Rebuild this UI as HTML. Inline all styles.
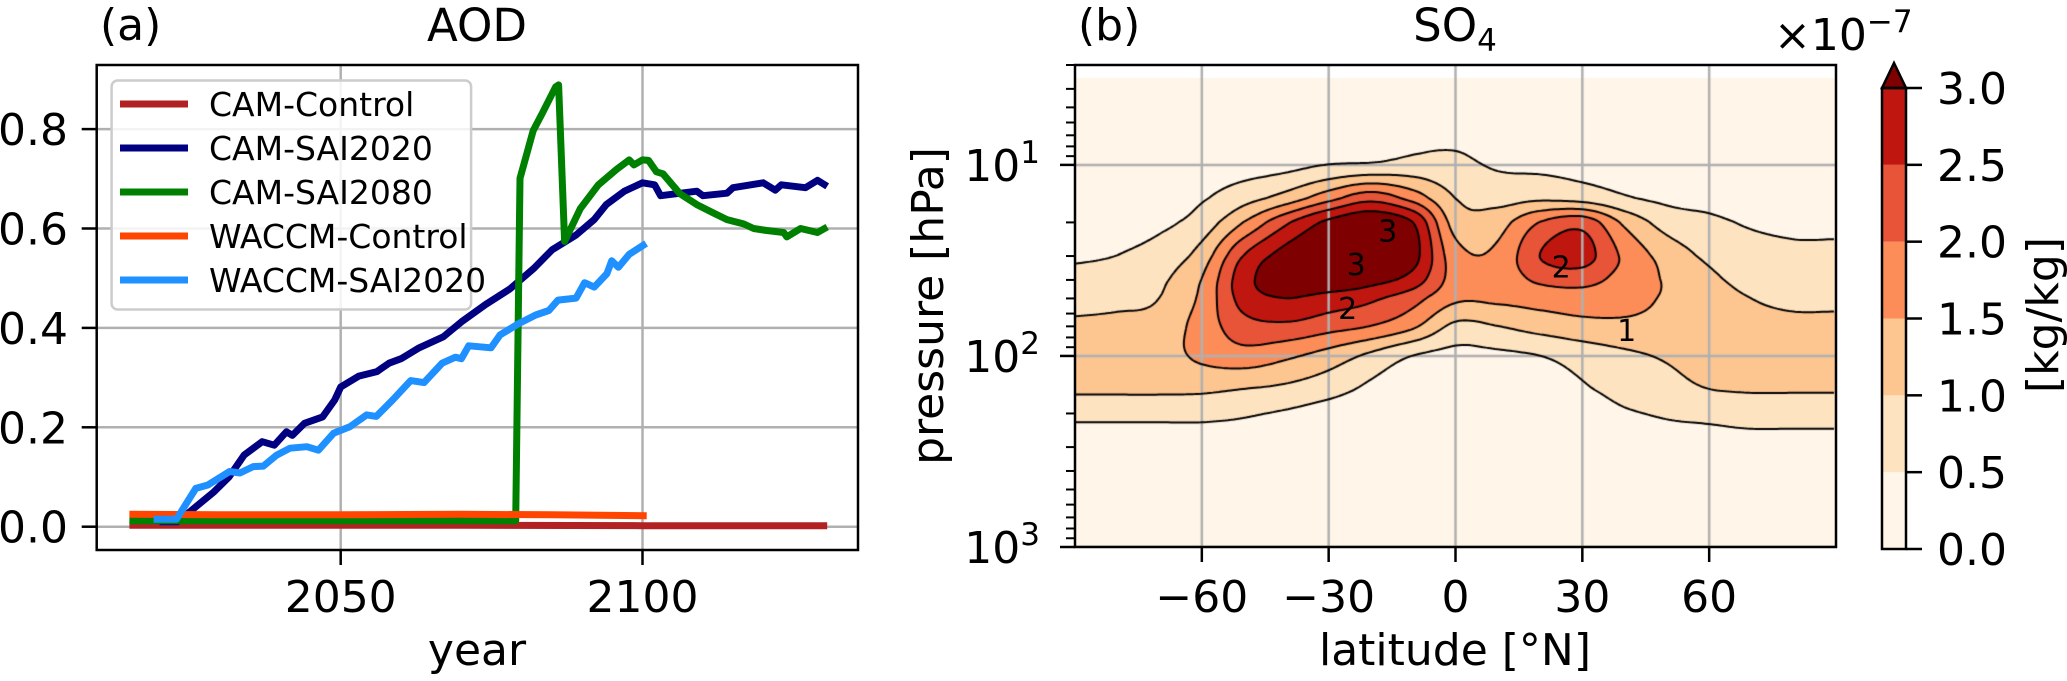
<!DOCTYPE html>
<html><head><meta charset="utf-8">
<style>
html,body{margin:0;padding:0;background:#fff;}
#wrap{position:relative;width:2067px;height:681px;overflow:hidden;font-family:"DejaVu Sans","Liberation Sans",sans-serif;}
svg{position:absolute;left:0;top:0;}
canvas{position:absolute;left:1075px;top:65px;}
text{font-family:"DejaVu Sans","Liberation Sans",sans-serif;fill:#000;}
</style></head>
<body>
<div id="wrap">
<canvas id="field" width="761" height="482"></canvas>
<svg id="svg" width="2067" height="681">
  <g id="left"></g>
  <g id="right"></g>
</svg>
</div>
<script>
// ---------- Panel (a) data ----------
const aodTicks = [0.0, 0.2, 0.4, 0.6, 0.8];
const aodTickLabels = ["0.0", "0.2", "0.4", "0.6", "0.8"];
const yearTicks = [2050, 2100];
const yearTickLabels = ["2050", "2100"];
const seriesNames = ["CAM-Control", "CAM-SAI2020", "CAM-SAI2080", "WACCM-Control", "WACCM-SAI2020"];
const seriesColors = ["#b22222", "#000080", "#008000", "#ff4500", "#1e90ff"];
const camControlYears = [2015, 2040, 2070, 2100, 2130.6];
const camControlVals = [0.003, 0.003, 0.003, 0.002, 0.002];
const camSai2020Years = [2020, 2023, 2024, 2026, 2029, 2031.5, 2034, 2037, 2039, 2041, 2042, 2044, 2047, 2049, 2050, 2053, 2056, 2058, 2060, 2063, 2067, 2070, 2074, 2078, 2082, 2085, 2089, 2092, 2094, 2097, 2100, 2102, 2103, 2109, 2110, 2114, 2115, 2120, 2122, 2123, 2127, 2129, 2130.6];
const camSai2020Vals = [0.01, 0.01, 0.02, 0.04, 0.07, 0.1, 0.144, 0.171, 0.164, 0.191, 0.184, 0.208, 0.221, 0.255, 0.281, 0.303, 0.312, 0.329, 0.338, 0.36, 0.382, 0.412, 0.447, 0.478, 0.52, 0.557, 0.587, 0.618, 0.648, 0.675, 0.692, 0.688, 0.666, 0.675, 0.666, 0.671, 0.682, 0.692, 0.677, 0.688, 0.682, 0.697, 0.685];
const camSai2080Years = [2015, 2079, 2079.7, 2081.9, 2083.4, 2085.6, 2086.1, 2087.1, 2089.7, 2092.7, 2095.7, 2097.8, 2098.6, 2100, 2101, 2102.3, 2103.4, 2106.2, 2109, 2111.8, 2114, 2116.8, 2118.4, 2120.6, 2123.4, 2123.9, 2126.2, 2129, 2130.6];
const camSai2080Vals = [0.012, 0.012, 0.701, 0.797, 0.832, 0.885, 0.889, 0.574, 0.64, 0.688, 0.719, 0.738, 0.728, 0.738, 0.737, 0.714, 0.71, 0.67, 0.648, 0.631, 0.618, 0.609, 0.6, 0.596, 0.592, 0.583, 0.6, 0.592, 0.603];
const waccmControlYears = [2015, 2030, 2050, 2070, 2085, 2100.7];
const waccmControlVals = [0.025, 0.024, 0.024, 0.025, 0.024, 0.022];
const waccmSai2020Years = [2019, 2022.8, 2026, 2028, 2031.6, 2033.3, 2035.5, 2037.2, 2039.4, 2041.6, 2044.4, 2046.3, 2048.8, 2051.5, 2054.3, 2055.9, 2058.6, 2061.6, 2063.8, 2066.8, 2069, 2070, 2071.2, 2074.9, 2076.4, 2079.4, 2082.3, 2084.5, 2086, 2089, 2090.4, 2092, 2094.1, 2094.9, 2096, 2097.8, 2100.6];
const waccmSai2020Vals = [0.015, 0.015, 0.077, 0.084, 0.111, 0.108, 0.121, 0.122, 0.144, 0.158, 0.161, 0.154, 0.188, 0.201, 0.225, 0.222, 0.255, 0.294, 0.29, 0.329, 0.341, 0.338, 0.364, 0.36, 0.386, 0.408, 0.426, 0.435, 0.456, 0.46, 0.491, 0.482, 0.509, 0.535, 0.522, 0.548, 0.57];

// ---------- Panel (b) data ----------
const lats = [-90,-80,-70,-60,-50,-40,-30,-20,-10,0,10,20,30,40,50,60,70,80,90];
const plevs = [3.5, 5, 7, 10, 15, 20, 30, 40, 50, 70, 100, 150, 200, 300, 500, 1000];
const so4 = [
 [0.1,0.1,0.1,0.1,0.1,0.1,0.12,0.15,0.18,0.2,0.18,0.15,0.12,0.1,0.1,0.1,0.1,0.1,0.1],
 [0.12,0.12,0.12,0.12,0.13,0.15,0.2,0.25,0.25,0.28,0.25,0.2,0.18,0.15,0.13,0.12,0.12,0.12,0.12],
 [0.15,0.15,0.15,0.15,0.18,0.22,0.3,0.35,0.4,0.42,0.35,0.3,0.25,0.2,0.17,0.15,0.15,0.15,0.15],
 [0.2,0.2,0.2,0.22,0.28,0.35,0.5,0.55,0.65,0.6,0.45,0.4,0.35,0.3,0.25,0.22,0.2,0.2,0.2],
 [0.25,0.25,0.3,0.45,0.8,1.2,1.8,2.3,1.8,1.0,0.8,0.9,0.8,0.55,0.4,0.35,0.3,0.3,0.3],
 [0.3,0.3,0.4,0.7,1.5,2.4,3.1,3.4,3.0,1.3,1.3,2.0,2.3,1.4,0.8,0.6,0.45,0.4,0.4],
 [0.45,0.5,0.7,1.2,2.5,3.2,3.5,3.6,3.2,1.7,1.6,2.5,2.7,1.9,1.3,0.9,0.7,0.6,0.6],
 [0.6,0.7,0.9,1.5,2.8,3.3,3.4,3.2,2.8,1.8,1.7,2.1,2.2,1.8,1.45,1.1,0.85,0.75,0.75],
 [0.8,0.85,1.0,1.6,2.7,3.0,2.8,2.6,2.2,1.6,1.6,1.7,1.75,1.65,1.45,1.2,1.0,0.9,0.9],
 [1.1,1.15,1.2,1.7,2.3,2.4,2.2,2.0,1.6,0.9,1.0,1.2,1.35,1.4,1.35,1.25,1.15,1.1,1.1],
 [1.3,1.3,1.3,1.6,1.8,1.6,1.3,0.9,0.5,0.35,0.4,0.5,0.7,0.9,1.05,1.15,1.2,1.2,1.2],
 [1.1,1.1,1.1,1.1,1.0,0.9,0.7,0.4,0.2,0.15,0.2,0.3,0.45,0.65,0.85,1.0,1.05,1.05,1.05],
 [0.6,0.6,0.6,0.6,0.55,0.45,0.3,0.2,0.1,0.1,0.12,0.2,0.3,0.45,0.55,0.6,0.65,0.65,0.65],
 [0.3,0.3,0.3,0.3,0.28,0.22,0.15,0.1,0.08,0.08,0.08,0.1,0.15,0.22,0.3,0.33,0.35,0.35,0.35],
 [0.1,0.1,0.1,0.1,0.1,0.08,0.06,0.05,0.05,0.05,0.05,0.05,0.06,0.08,0.1,0.1,0.1,0.1,0.1],
 [0.02,0.02,0.02,0.03,0.03,0.03,0.03,0.03,0.03,0.03,0.03,0.03,0.03,0.03,0.03,0.03,0.03,0.03,0.03]
];
const fillLevels = [0, 0.5, 1.0, 1.5, 2.0, 2.5, 3.0];
const fillColors = ["#fff5e8", "#fee3c1", "#fdc590", "#fc8d59", "#e75438", "#c01610", "#7f0000"];
const contourLevels = [0.5, 1.0, 1.5, 2.0, 2.5, 3.0];
const cbarTickLabels = ["0.0", "0.5", "1.0", "1.5", "2.0", "2.5", "3.0"];
const latTicks = [-60, -30, 0, 30, 60];
const latTickLabels = ["\u221260", "\u221230", "0", "30", "60"];
const pMajor = [10, 100, 1000];
const pMajorExp = ["1", "2", "3"];
const clabelText = ["3", "3", "2", "2", "1"];
const clabelLat = [-16, -23.5, -25.5, 25, 40.5];
const clabelP = [22, 33, 56, 34, 73];

const NS = "http://www.w3.org/2000/svg";
function mk(parent, tag, attrs, txt) {
  const e = document.createElementNS(NS, tag);
  for (const k in attrs) e.setAttribute(k, attrs[k]);
  if (txt !== undefined) e.textContent = txt;
  parent.appendChild(e);
  return e;
}

// ---------- Panel (a) ----------
const L = document.getElementById('left');
const AX = {x0: 96.7, x1: 858, y0: 65, y1: 550};
const xL = yr => 340.7 + (yr - 2050) * 6.036;
const yL = v => 526.7 - v * 497;
const GRID = "#b0b0b0";

aodTicks.forEach((t, i) => {
  const g = mk(L, 'line', {x1: AX.x0, x2: AX.x1, y1: yL(t), y2: yL(t), stroke: GRID, 'stroke-width': 2.5});
  
  
  const tk = mk(L, 'line', {x1: AX.x0 - 15, x2: AX.x0, y1: yL(t), y2: yL(t), stroke: '#000', 'stroke-width': 2.5});
  
  
  const lb = mk(L, 'text', {x: 68, y: yL(t) + 16, 'text-anchor': 'end', 'font-size': 44}, aodTickLabels[i]);
  
  
});
yearTicks.forEach((t, i) => {
  const g = mk(L, 'line', {x1: xL(t), x2: xL(t), y1: AX.y0, y2: AX.y1, stroke: GRID, 'stroke-width': 2.5});
  
  
  const tk = mk(L, 'line', {x1: xL(t), x2: xL(t), y1: AX.y1, y2: AX.y1 + 15, stroke: '#000', 'stroke-width': 2.5});
  
  
  const lb = mk(L, 'text', {x: xL(t), y: 612, 'text-anchor': 'middle', 'font-size': 44}, yearTickLabels[i]);
  
  
});

const seriesX = [camControlYears, camSai2020Years, camSai2080Years, waccmControlYears, waccmSai2020Years];
const seriesY = [camControlVals, camSai2020Vals, camSai2080Vals, waccmControlVals, waccmSai2020Vals];
const seriesIds = ['cam-control-line', 'cam-sai2020-line', 'cam-sai2080-line', 'waccm-control-line', 'waccm-sai2020-line'];
seriesX.forEach((xs, s) => {
  const pts = xs.map((yr, i) => xL(yr).toFixed(1) + ',' + yL(seriesY[s][i]).toFixed(1)).join(' ');
  const pl = mk(L, 'polyline', {points: pts, fill: 'none', stroke: seriesColors[s], 'stroke-width': 7, 'stroke-linejoin': 'round'});
  
  
});
const sp = mk(L, 'rect', {x: AX.x0, y: AX.y0, width: AX.x1 - AX.x0, height: AX.y1 - AX.y0, fill: 'none', stroke: '#000', 'stroke-width': 2.5});



// legend
const lg = mk(L, 'g', {});


mk(lg, 'rect', {x: 111.6, y: 80.5, width: 359.5, height: 229, rx: 6, fill: 'rgba(255,255,255,0.85)', stroke: '#cccccc', 'stroke-width': 2.5});
seriesNames.forEach((n, i) => {
  const y = 104 + i * 44;
  const en = mk(lg, 'g', {});
  
  
  mk(en, 'line', {x1: 120, x2: 188, y1: y, y2: y, stroke: seriesColors[i], 'stroke-width': 7});
  mk(en, 'text', {x: 209, y: y + 12, 'font-size': 33}, n);
});

const t1 = mk(L, 'text', {x: 100, y: 40, 'font-size': 44}, '(a)');


const t2 = mk(L, 'text', {x: 477, y: 41, 'font-size': 45, 'text-anchor': 'middle'}, 'AOD');


const t3 = mk(L, 'text', {x: 477, y: 665, 'font-size': 44, 'text-anchor': 'middle'}, 'year');



// ---------- Panel (b) ----------
const R = document.getElementById('right');
const BX = {x0: 1075, x1: 1836, y0: 65, y1: 547};
const LP0 = Math.log10(3), LP1 = 3;
const xR = lat => BX.x0 + (lat + 90) / 180 * (BX.x1 - BX.x0);
const yR = p => BX.y0 + (Math.log10(p) - LP0) / (LP1 - LP0) * (BX.y1 - BX.y0);

const logp = plevs.map(p => Math.log10(p));
function cr(p0, p1, p2, p3, t) {
  return 0.5 * ((2 * p1) + (-p0 + p2) * t + (2 * p0 - 5 * p1 + 4 * p2 - p3) * t * t + (-p0 + 3 * p1 - 3 * p2 + p3) * t * t * t);
}
function val(lat, lp) {
  const nx = lats.length, ny = logp.length;
  let fx = (lat - lats[0]) / (lats[1] - lats[0]);
  fx = Math.max(0, Math.min(nx - 1.0001, fx));
  let j = 0;
  while (j < ny - 2 && lp > logp[j + 1]) j++;
  let fy = j + (lp - logp[j]) / (logp[j + 1] - logp[j]);
  fy = Math.max(0, Math.min(ny - 1.0001, fy));
  const ix = Math.floor(fx), iy = Math.floor(fy), tx = fx - ix, ty = fy - iy;
  const g = (r, c) => so4[Math.max(0, Math.min(ny - 1, r))][Math.max(0, Math.min(nx - 1, c))];
  const rows = [];
  for (let r = -1; r <= 2; r++) rows.push(cr(g(iy + r, ix - 1), g(iy + r, ix), g(iy + r, ix + 1), g(iy + r, ix + 2), tx));
  return cr(rows[0], rows[1], rows[2], rows[3], ty);
}
const W = BX.x1 - BX.x0, H = BX.y1 - BX.y0;
const cv = document.getElementById('field');
const ctx = cv.getContext('2d');
const rgb = fillColors.map(c => [parseInt(c.substr(1, 2), 16), parseInt(c.substr(3, 2), 16), parseInt(c.substr(5, 2), 16)]);
const img = ctx.createImageData(W, H);
const topLp = Math.log10(plevs[0]);
const V = [];
for (let py = 0; py < H; py++) {
  const lp = LP0 + (py + 0.5) / H * (LP1 - LP0);
  const row = [];
  for (let px = 0; px < W; px++) {
    const lat = -90 + (px + 0.5) / W * 180;
    const v = val(lat, lp);
    row.push(v);
    const k = (py * W + px) * 4;
    if (lp < topLp) { img.data[k + 3] = 0; continue; }
    let b = 0;
    for (let m = fillLevels.length - 1; m >= 0; m--) if (v >= fillLevels[m]) { b = m; break; }
    img.data[k] = rgb[b][0]; img.data[k + 1] = rgb[b][1]; img.data[k + 2] = rgb[b][2]; img.data[k + 3] = 255;
  }
  V.push(row);
}
ctx.putImageData(img, 0, 0);
ctx.strokeStyle = GRID; ctx.lineWidth = 2.5;
latTicks.forEach(t => { const x = xR(t) - BX.x0; ctx.beginPath(); ctx.moveTo(x, 0); ctx.lineTo(x, H); ctx.stroke(); });
pMajor.forEach(p => { const y = yR(p) - BX.y0; ctx.beginPath(); ctx.moveTo(0, y); ctx.lineTo(W, y); ctx.stroke(); });
ctx.strokeStyle = '#000'; ctx.lineWidth = 2;
const st = 3;
const topPy = (topLp - LP0) / (LP1 - LP0) * H;
contourLevels.forEach(lev => {
  ctx.beginPath();
  for (let y = Math.ceil(topPy); y + st < H; y += st) {
    for (let x = 0; x + st < W; x += st) {
      const a = V[y][x], b = V[y][x + st], c = V[y + st][x + st], d = V[y + st][x];
      const pts = [];
      const e = (v1, v2, x1, y1, x2, y2) => { const t = (lev - v1) / (v2 - v1); pts.push([x1 + (x2 - x1) * t, y1 + (y2 - y1) * t]); };
      if ((a < lev) !== (b < lev)) e(a, b, x, y, x + st, y);
      if ((b < lev) !== (c < lev)) e(b, c, x + st, y, x + st, y + st);
      if ((c < lev) !== (d < lev)) e(c, d, x + st, y + st, x, y + st);
      if ((d < lev) !== (a < lev)) e(d, a, x, y + st, x, y);
      for (let i = 0; i + 1 < pts.length; i += 2) { ctx.moveTo(pts[i][0], pts[i][1]); ctx.lineTo(pts[i + 1][0], pts[i + 1][1]); }
    }
  }
  ctx.stroke();
});

clabelText.forEach((t, i) => {
  const e = mk(R, 'text', {x: xR(clabelLat[i]), y: yR(clabelP[i]) + 11, 'font-size': 30, 'text-anchor': 'middle'}, t);
  
  
});

latTicks.forEach((t, i) => {
  const tk = mk(R, 'line', {x1: xR(t), x2: xR(t), y1: BX.y1, y2: BX.y1 + 15, stroke: '#000', 'stroke-width': 2.5});
  
  
  const lb = mk(R, 'text', {x: xR(t), y: 612, 'text-anchor': 'middle', 'font-size': 44}, latTickLabels[i]);
  
  
});
pMajor.forEach((p, i) => {
  const tk = mk(R, 'line', {x1: BX.x0 - 15, x2: BX.x0, y1: yR(p), y2: yR(p), stroke: '#000', 'stroke-width': 2.5});
  
  
  const lb = mk(R, 'text', {x: 1040, y: yR(p) + 16, 'text-anchor': 'end', 'font-size': 44});
  
  
  mk(lb, 'tspan', {}, '10');
  mk(lb, 'tspan', {dy: -18, 'font-size': 31}, pMajorExp[i]);
});
for (let dec = 0; dec < 3; dec++) {
  for (let m = 2; m <= 9; m++) {
    const p = m * Math.pow(10, dec);
    if (p < 3 || p > 1000) continue;
    const tk = mk(R, 'line', {x1: BX.x0 - 9, x2: BX.x0, y1: yR(p), y2: yR(p), stroke: '#000', 'stroke-width': 2});
    
    
  }
}
const sp2 = mk(R, 'rect', {x: BX.x0, y: BX.y0, width: W, height: H, fill: 'none', stroke: '#000', 'stroke-width': 2.5});



const b1 = mk(R, 'text', {x: 1078, y: 40, 'font-size': 44}, '(b)');


const b2 = mk(R, 'text', {x: 1455, y: 41, 'font-size': 45, 'text-anchor': 'middle'});


mk(b2, 'tspan', {}, 'SO');
mk(b2, 'tspan', {dy: 10, 'font-size': 31}, '4');
const b3 = mk(R, 'text', {x: 1455, y: 665, 'font-size': 44, 'text-anchor': 'middle'}, 'latitude [°N]');


const b4 = mk(R, 'text', {x: 0, y: 0, 'font-size': 44, 'text-anchor': 'middle', transform: 'translate(943,306) rotate(-90)'}, 'pressure [hPa]');



const CB = {x0: 1882, x1: 1906, y0: 88, y1: 549};
const cbY = v => CB.y1 - v / 3.0 * (CB.y1 - CB.y0);
for (let i = 0; i < fillLevels.length - 1; i++) {
  const r = mk(R, 'rect', {x: CB.x0, y: cbY(fillLevels[i + 1]), width: CB.x1 - CB.x0, height: cbY(fillLevels[i]) - cbY(fillLevels[i + 1]), fill: fillColors[i]});
  
  
}
const tri = mk(R, 'polygon', {points: `${CB.x0},${CB.y0} ${(CB.x0 + CB.x1) / 2},${CB.y0 - 25} ${CB.x1},${CB.y0}`, fill: fillColors[6], stroke: '#000', 'stroke-width': 2.5, 'stroke-linejoin': 'miter'});


const cbo = mk(R, 'rect', {x: CB.x0, y: CB.y0, width: CB.x1 - CB.x0, height: CB.y1 - CB.y0, fill: 'none', stroke: '#000', 'stroke-width': 2.5});


fillLevels.forEach((v, i) => {
  const tk = mk(R, 'line', {x1: CB.x1, x2: CB.x1 + 16, y1: cbY(v), y2: cbY(v), stroke: '#000', 'stroke-width': 2.5});
  
  
  const lb = mk(R, 'text', {x: 1937, y: cbY(v) + 16, 'font-size': 44}, cbarTickLabels[i]);
  
  
});
const ex = mk(R, 'text', {x: 1774, y: 50, 'font-size': 44});


mk(ex, 'tspan', {}, '×10');
mk(ex, 'tspan', {dy: -18, 'font-size': 31}, '−7');
const ul = mk(R, 'text', {x: 0, y: 0, 'font-size': 44, 'text-anchor': 'middle', transform: 'translate(2058,315) rotate(-90)'}, '[kg/kg]');


</script>
</body></html>
